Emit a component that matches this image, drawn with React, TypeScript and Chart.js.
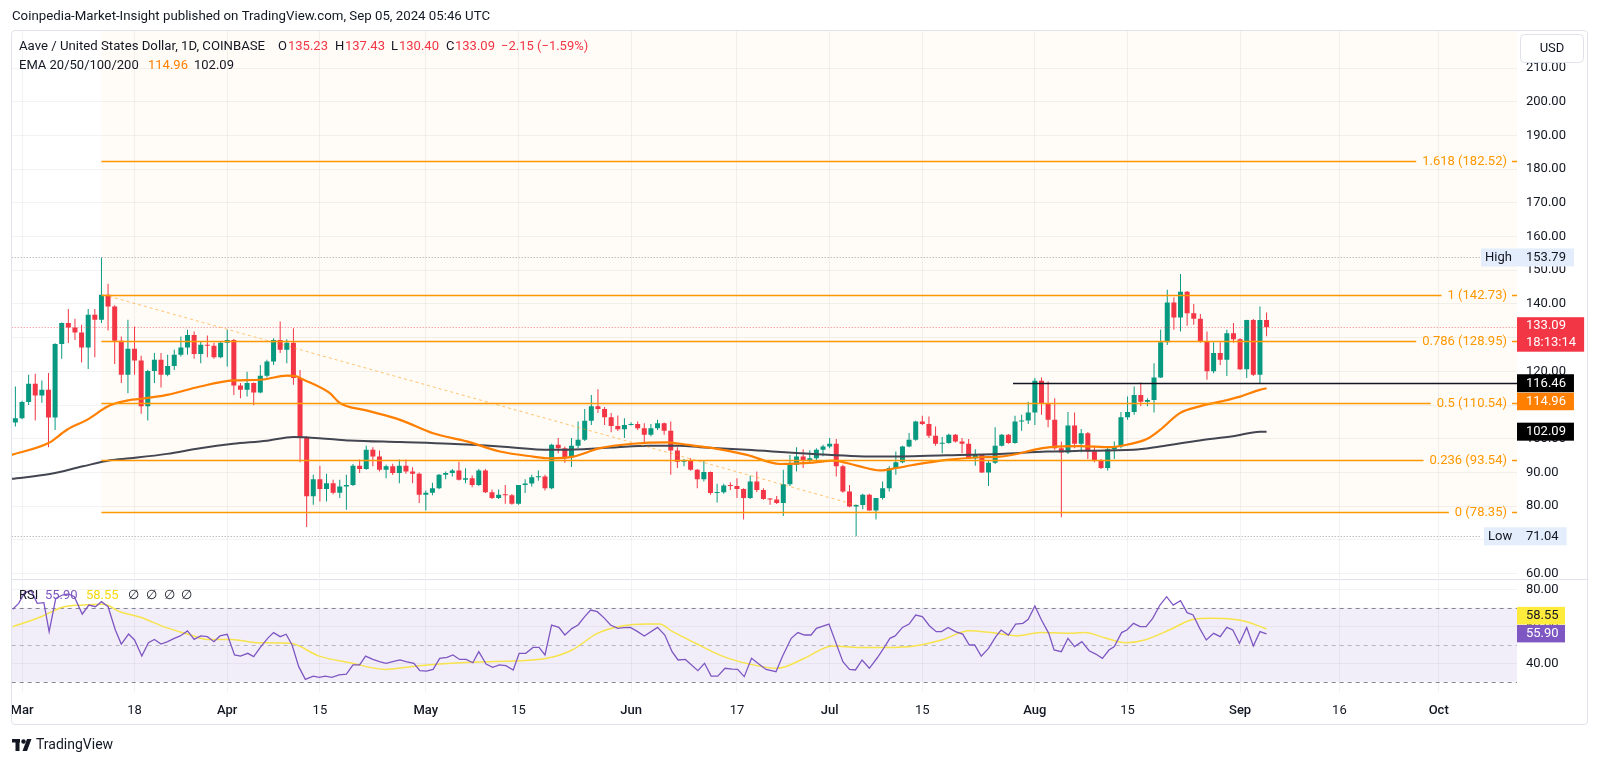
import React, { useEffect, useRef } from "react";
import { Chart, registerables } from "chart.js";

Chart.register(...registerables);

const FONT = "Roboto, 'Noto Sans', sans-serif";
const TEXT = "#131722";
const UP = "#089981";
const DOWN = "#f23645";
const GRID = "rgba(42,46,57,0.06)";
const FIB = "#ff9800";
const EMA50_COLOR = "#ff7f00";
const EMA200_COLOR = "#434651";

// day 0 = 2024-03-01 ; first candle = 2024-02-29
const FIRST_DAY = -1;
const X_MIN = -1.556;
const X_MAX = 225.83;

const opens = [
  104.8,106.1,110.9,116.3,112.8,114.5,106.3,128.1,134.3,133,
  131.5,127.1,136.8,135.3,142.7,139.2,129.1,119,126.7,123.2,
  109.6,120.1,123.4,119,121.6,124.9,127.1,130.8,125.1,127.9,
  127.6,124.2,128.5,129.3,115.8,114.5,116.5,113.7,118.7,122.9,
  129.3,126.4,128.5,118,100.5,82.9,88,85.1,86.8,84,
  85.8,86.3,92,91,96.7,94.7,90.8,91.8,89.8,92,
  90.3,89.6,83.4,84,85.3,89.3,89.8,90.6,87.8,88.3,
  86.3,90.6,84.1,82.4,83.4,83.2,80.7,86.3,86.7,88.6,
  88.8,85.3,98.2,97.2,94.5,97.9,99.7,105.3,109.6,108.8,
  106.4,103.8,102.8,104.1,104.4,103.1,101.2,103.1,104.6,102.4,
  96.5,93.2,93.6,90.8,88,90.1,83.9,84.1,86.1,86,
  85.1,82.4,87.3,84.8,82.1,82,80.9,86.5,92.3,94.7,
  93.5,94.2,96.7,97.7,98.5,91.8,84.3,79.9,80.3,83.4,
  78.7,82.4,85.3,91.3,93,97.7,99.7,105.1,104.4,100.9,
  98.5,98.7,101.2,99.2,98.5,94.2,95.2,90,92.9,97.9,
  101.2,98.7,105.1,105.4,107.8,117.2,110.5,105.6,97.2,95.9,
  103.9,98.5,101.6,96.2,93.5,91.3,96.9,97.7,106.4,107.9,
  113,111,111.5,118.2,128.6,140.4,136,143.6,137.2,135.6,
  128.8,120,125.4,123.4,131.3,129.5,120.6,135.2,119,135.23
];
const highs = [
  115.5,111.3,119,119.3,117.3,119.5,128.3,134.5,138.5,135.6,
  133.8,138.5,138.5,153.79,146,139.6,130.3,135.3,133.3,124.6,
  120.5,125.4,125.4,124.9,126.4,130.3,132.3,131.8,128.8,130.6,
  128.5,128.8,132.3,129.6,116.5,119.9,116.7,121.9,123.4,129.8,
  134.8,129.5,132.8,120.4,100.8,89.3,92,89.6,87.8,87.8,
  89.3,92.5,93.8,97.9,97.5,96.5,92.3,92.6,93.8,93.8,
  91.5,90,84.6,86.9,89.5,90.3,91,93.2,91.2,89.1,
  91,91,84.9,84.9,86.3,83.6,86.3,88,89.3,90.6,
  89.3,98.5,100.2,97.7,100.2,105.1,108.8,113,114.7,109.4,
  107.6,106.9,106.1,104.9,105.1,104.6,104.4,105.6,104.8,105.1,
  97.5,94,94.2,91,93.7,90.3,86.6,86.6,87.1,88.3,
  85.3,89,90.3,85.3,82.4,83,90.8,95.2,97.5,96.9,
  96.6,97.2,98.2,100.2,99.9,92.3,86.3,80.5,83.7,83.7,
  82.4,87.3,91.8,96.2,97.9,101.7,105.3,106.8,106.6,103.6,
  100.5,101.5,101.4,100.2,99.9,96.9,95.4,93.5,103.4,101.4,
  101.4,106.8,107.1,111,118,118.2,117,112,99.2,107.9,
  107.8,102.9,102,97.6,94,97.7,99.2,107.9,112.5,115.5,
  116.7,112,122.4,132.3,144.2,142,148.9,143.8,140,137,
  131.8,128.6,128.6,132.3,134.3,129.8,135.3,135.5,139.2,137.43
];
const lows = [
  103.6,105.8,110,105.4,110.7,97.5,102.6,123.7,128.4,129.3,
  122.6,120.7,124.2,134.3,132.1,122.2,116.5,113.5,119,107.4,
  105.4,116.5,115.2,118.5,120.4,124.4,124.9,123.7,122.4,124.2,
  123.7,123.9,121.4,113,112,112.5,109.9,113.5,118.2,121.9,
  125.4,122.4,116,93,73.8,80.4,81.4,81.4,83.5,82.4,
  78.9,86,89.8,90.8,91.8,90.3,88.3,89.2,86.8,89.6,
  86.8,80.9,78.7,83.2,85,88,88.8,87.6,86.8,85.6,
  86,83.9,82.1,82.1,80.7,80.4,80.4,83.9,85.8,87.5,
  84.6,85,95.7,92.9,91.6,97.2,99.3,104.1,107.6,104.1,
  101.9,102.3,100.2,103.9,102.6,98.5,100.7,102.6,101.2,89.3,
  91.3,91.8,90.5,85.3,87.3,83.4,81.1,83.7,84.8,82.4,
  76,82.1,84.1,81.9,80.4,80.6,77.1,86,90.3,91.3,
  93,93.5,94.8,97.2,88.8,84,79.7,71.04,79.1,78.7,
  76,82,84.3,89.3,92.7,97.5,99.4,104.1,100.2,97.9,
  95.7,98.5,98.9,95.7,94,92,89.8,86,92.5,97.7,
  98.5,98.5,102.4,104.4,104.1,107.1,103.4,96.7,76.7,95.5,
  97.2,96,94,93,91,90.6,94,97.2,105.6,107.1,
  109.6,109.6,107.8,118,127.8,132.3,131.8,133.5,133.8,128.5,
  117.5,119.4,121.9,118.6,128.5,120.4,118,118.6,116.5,130.4
];
const closes = [
  106.1,110.9,116.3,112.8,114.5,106.3,128.1,134.3,133,131.5,
  127.1,136.8,135.3,142.7,139.2,129.1,119,126.7,123.2,109.6,
  120.1,123.4,119,121.6,124.9,127.1,130.8,125.1,127.9,127.6,
  124.2,128.5,129.3,115.8,114.5,116.5,113.7,118.7,122.9,129.3,
  126.4,128.5,118,100.5,82.9,88,85.1,86.8,84,85.8,
  86.3,92,91,96.7,94.7,90.8,91.8,89.8,92,90.3,
  89.6,83.4,84,85.3,89.3,89.8,90.6,87.8,88.3,86.3,
  90.6,84.1,82.4,83.4,83.2,80.7,86.3,86.7,88.6,88.8,
  85.3,98.2,97.2,94.5,97.9,99.7,105.3,109.6,108.8,106.4,
  103.8,102.8,104.1,104.4,103.1,101.2,103.1,104.6,102.4,96.5,
  93.2,93.6,90.8,88,90.1,83.9,84.1,86.1,86,85.1,
  82.4,87.3,84.8,82.1,82,80.9,86.5,92.3,94.7,93.5,
  94.2,96.7,97.7,98.5,91.8,84.3,79.9,80.3,83.4,78.7,
  82.4,85.3,91.3,93,97.7,99.7,105.1,104.4,100.9,98.5,
  98.7,101.2,99.2,98.5,94.2,95.2,90,92.9,97.9,101.2,
  98.7,105.1,105.4,107.8,117.2,110.5,105.6,97.2,95.9,103.9,
  98.5,101.6,96.2,93.5,91.3,96.9,97.7,106.4,107.9,113,
  111,111.5,118.2,128.6,140.4,136,143.6,137.2,135.6,128.8,
  120,125.4,123.4,131.3,129.5,120.6,135.2,119,135.23,133.09
];

const ema50Days = [-1.6,4,6.75,9.8,13.3,16.3,17.8,21.9,26.9,31.9,36,40,41.5,42,46.5,48,52,57.1,62.1,67.2,72.2,77.2,79.8,83.3,87.3,92.3,97.4,99.4,102.4,104.4,109.5,114.5,119.5,122.6,126.1,129.6,132.1,134.6,139.7,144.7,147.7,150.8,152.8,155.4,159.8,164.4,166.9,169.9,171.9,174.9,177.9,181,184,187,188];
const ema50Values = [95.2,98.7,102.6,105.6,109.9,111.5,111.8,113,115.5,117.3,117.5,118.7,118.5,118,113.5,110.6,108.4,105.6,101.6,99.2,96.2,94.7,94.2,94.7,97.2,98.5,98.9,98.5,97.7,97.2,95.2,92.5,92.9,93.5,92,90.6,91.3,92.2,93.7,94.5,94.7,95.7,96.7,97.5,97.8,97.5,98.2,99.9,102.6,107.6,109.6,111,112.5,114.5,114.96];

const ema200Days = [-1.6,4.2,9.2,13.3,16.3,21.9,26.9,31.9,37,41,46.5,49.5,57.1,64.6,72.2,79.8,84.8,89.9,94.9,99.4,102.4,109.5,119.5,129.6,139.7,147.7,154.8,159.8,167.9,171.9,177.9,182.9,187,188];
const ema200Values = [88.1,89.5,91.8,93.6,94.2,95.5,97.2,98.5,99.4,100.5,99.9,99.5,99,98.5,97.7,96.7,96.9,97.5,97.9,97.9,97.5,96.7,95.5,94.7,95.1,95.5,96.2,96.4,96.7,97.7,99.5,100.7,102.1,102.09];

const rsiDays = [-1.4,-0.5,0.4,1.4,2.3,3.3,4.1,5.1,6.1,7,7.9,9.1,10.1,11.1,12,13,14.1,15,16.1,17,18.1,19.1,20,21,22,23,23.9,25,26,27,28,29,29.9,31,32.1,33,34.1,35,36,37.1,38,39,39.9,40.8,41.8,42.8,44,44.9,45.8,46.8,47.9,49,50,51,51.9,53,54,55,56,57.1,58,59.2,60.1,61.1,62.1,63.1,64.2,65.1,66.1,67.1,68.1,69,70.1,71.1,72.1,73.1,74.2,75.1,76.1,77.2,78.1,79,80,81.1,82,83.1,84,85,85.9,86.9,88,88.9,90,90.9,91.9,93,94,96,97.1,98.2,99.1,100.2,102.1,103.1,104.1,105.1,106.2,107.3,108.1,109.1,110.2,111.4,112.4,113.9,114.9,116.2,117.2,118.2,119.2,120,121.9,124,125,125.9,126.9,128,129.2,130,131.1,131.9,133,134,135,136,137.1,138.1,138.9,139.9,141,142.1,143.1,143.9,144.9,146,147.1,147.9,149,150.1,151.2,152,153,154,155.1,155.9,157,158,159,160.1,161.2,162.2,163.2,164.2,165,166.1,166.9,167.9,168.9,169.8,170.8,171.9,172.9,173.9,175,176,176.9,177.9,178.9,180,181,182,182.9,183.9,185,186,187,188];
const rsiValues = [69.2,72.4,78.2,79.3,72.4,72.8,57.1,75.1,76.9,77.5,76,66.6,71.5,70.6,73.3,70.6,58,50.4,55.8,52.6,43.9,51.1,52.9,50.4,51.7,53.5,54.8,57.5,52.9,54.8,54.4,51.7,54.8,55.7,44.5,43.9,45.4,43.6,48.6,53.5,56.6,54.4,55.7,49.9,38.2,31.3,33.1,32.4,33.1,32.4,33.7,34.1,39.1,39.1,43.9,42.1,40.9,40,40.9,41.8,40.9,40,36,35.8,36.7,42.7,43.2,44.5,42.1,42.1,40.3,46.3,39.6,37.8,39.1,38.7,36.4,45.4,45.4,48.6,48.6,44.5,60.7,59.4,55.3,58.9,60.7,65.2,68.8,67.9,64.3,60.7,58.9,59.3,59.4,57.1,54.8,59.4,55.3,46.3,41.8,42.1,36,40,33.1,33.1,37.3,36.9,36.7,32.8,42.7,39.4,36.7,35.5,43.9,53.5,56.6,55.3,55.3,58.9,61.2,40.9,36.7,36.4,41.8,37.3,43,47.2,53.5,54.8,59.4,61.2,66.1,65.2,60.2,57.1,57.1,59.4,57.1,55.8,49.9,49.9,43.9,48.1,54.4,58,55.3,61.2,61.6,63.8,71,63.4,56.2,47.2,46.3,53.5,49,51.7,46.8,45,42.7,47.2,49,56.6,58,61.6,59.8,59.8,64.3,71.5,76,71.5,73.9,67.4,66.1,58.9,52.6,56.2,54.4,59.4,58,50.8,59.4,49.4,57.1,55.9];

const rsiMaDays = [-1.4,2.9,6.1,9.2,12.3,14.8,18,21.7,25.5,28,31.7,35.5,40.5,44.9,49.9,54.9,58.7,63.1,68.7,74.9,79.3,83.1,86.9,90.6,94.4,96.3,98.3,101.6,105.8,109.9,114.1,118.2,122.4,126.5,130.6,134.8,138.9,143.1,146.4,150.5,153.8,158,160.5,163.8,166.7,169.6,173.3,177,179.5,182.9,185,188];
const rsiMaValues = [59.8,65.2,70.3,71.5,71.9,67.9,64.8,59.4,55.3,52.9,52.9,51.1,50.8,43.9,40,36.7,38.2,39.6,40.7,41.4,42.7,47.2,56.2,60.2,61.3,61.2,57.1,51.1,43.9,39.6,37.3,42.7,49.4,48.6,48.6,49.4,52.6,57.6,56.6,54.9,56.7,56.2,56.6,53.5,51.1,52.6,58,63.8,64.3,63.8,62.5,58.55];

const xTickDays = [0, 17, 31, 45, 61, 75, 92, 108, 122, 136, 153, 167, 184, 199, 214];
const xTickLabels = ["Mar", "18", "Apr", "15", "May", "15", "Jun", "17", "Jul", "15", "Aug", "15", "Sep", "16", "Oct"];
const priceTicks = [60, 70, 80, 90, 100, 110, 120, 130, 140, 150, 160, 170, 180, 190, 200, 210];
const rsiTicks = [40, 60, 80];

const fibRatios = ["0", "0.236", "0.5", "0.786", "1", "1.618"];
const fibPrices = [78.35, 93.54, 110.54, 128.95, 142.73, 182.52];
const fibStartDay = 12;
const trendDays = [12.3, 126];
const trendPrices = [142.73, 80.3];
const supportPrice = 116.46;
const supportStartDay = 149.7;
const highPrice = 153.79;
const lowPrice = 71.04;
const lastClose = 133.09;
const ema50Last = 114.96;
const ema200Last = 102.09;
const rsiLast = 55.9;
const rsiMaLast = 58.55;

function font(size: number, weight = "normal") {
  return `${weight} ${size}px ${FONT}`;
}

function badge(ctx: CanvasRenderingContext2D, x: number, top: number, w: number, h: number, bg: string, fg: string, text: string, tx: number) {
  ctx.fillStyle = bg;
  ctx.fillRect(x, top, w, h);
  ctx.fillStyle = fg;
  ctx.textAlign = "left";
  ctx.textBaseline = "middle";
  ctx.fillText(text, tx, top + h / 2 + 0.5);
}

const pricePlugin = {
  id: "priceOverlay",
  beforeDraw(chart: any) {
    const { ctx, chartArea: a, scales } = chart;
    const x = scales.x, y = scales.y;
    ctx.save();
    const x0 = x.getPixelForValue(fibStartDay);
    const yb = y.getPixelForValue(fibPrices[0]);
    ctx.fillStyle = "rgba(255,152,0,0.035)";
    ctx.fillRect(x0, a.top, a.right - x0, yb - a.top);
    ctx.restore();
  },
  afterDatasetsDraw(chart: any) {
    const { ctx, chartArea: a, scales } = chart;
    const x = scales.x, y = scales.y;
    ctx.save();
    ctx.beginPath();
    ctx.rect(a.left, a.top, a.right - a.left, a.bottom - a.top);
    ctx.clip();

    ctx.setLineDash([1, 2]);
    ctx.lineWidth = 1;
    ctx.strokeStyle = "rgba(120,123,134,0.7)";
    for (const p of [highPrice, lowPrice]) {
      const yy = Math.round(y.getPixelForValue(p)) + 0.5;
      ctx.beginPath();
      ctx.moveTo(a.left, yy);
      ctx.lineTo(a.right - 36, yy);
      ctx.stroke();
    }
    ctx.strokeStyle = "rgba(242,54,69,0.6)";
    const yl = Math.round(y.getPixelForValue(lastClose)) + 0.5;
    ctx.beginPath();
    ctx.moveTo(a.left, yl);
    ctx.lineTo(a.right, yl);
    ctx.stroke();

    ctx.setLineDash([3, 3]);
    ctx.strokeStyle = "rgba(255,152,0,0.55)";
    ctx.beginPath();
    ctx.moveTo(x.getPixelForValue(trendDays[0]), y.getPixelForValue(trendPrices[0]));
    ctx.lineTo(x.getPixelForValue(trendDays[1]), y.getPixelForValue(trendPrices[1]));
    ctx.stroke();
    ctx.setLineDash([]);

    ctx.font = font(13);
    ctx.textBaseline = "middle";
    ctx.textAlign = "right";
    const xs = x.getPixelForValue(fibStartDay);
    for (let i = 0; i < fibPrices.length; i++) {
      const yy = Math.round(y.getPixelForValue(fibPrices[i])) + 0.5;
      const label = `${fibRatios[i]} (${fibPrices[i].toFixed(2)})`;
      const tr = a.right - 10;
      const w = ctx.measureText(label).width;
      ctx.strokeStyle = FIB;
      ctx.lineWidth = 1.5;
      ctx.beginPath();
      ctx.moveTo(xs, yy);
      ctx.lineTo(tr - w - 6, yy);
      ctx.moveTo(a.right - 5, yy);
      ctx.lineTo(a.right, yy);
      ctx.stroke();
      ctx.fillStyle = FIB;
      ctx.fillText(label, tr, yy + 0.5);
    }

    const ys = Math.round(y.getPixelForValue(supportPrice)) + 0.5;
    ctx.strokeStyle = "#131722";
    ctx.lineWidth = 1.5;
    ctx.beginPath();
    ctx.moveTo(x.getPixelForValue(supportStartDay), ys);
    ctx.lineTo(a.right, ys);
    ctx.stroke();
    ctx.restore();
  },
  afterDraw(chart: any) {
    const { ctx, chartArea: a, scales } = chart;
    const y = scales.y;
    ctx.save();
    ctx.font = font(13);
    const R = a.right;
    const tx = R + 9;
    const bw = (t: string) => ctx.measureText(t).width + 17;

    let yy = y.getPixelForValue(highPrice);
    badge(ctx, R - 36, yy - 9, 36, 18, "#e3edfb", TEXT, "High", R - 32);
    badge(ctx, R, yy - 9, bw("153.79"), 18, "#e3edfb", TEXT, highPrice.toFixed(2), tx);
    yy = y.getPixelForValue(lowPrice);
    badge(ctx, R - 33, yy - 9, 33, 18, "#e3edfb", TEXT, "Low", R - 29);
    badge(ctx, R, yy - 9, bw("71.04"), 18, "#e3edfb", TEXT, lowPrice.toFixed(2), tx);
    yy = y.getPixelForValue(lastClose);
    ctx.fillStyle = DOWN;
    ctx.fillRect(R, yy - 10, bw("18:13:14"), 34.5);
    ctx.fillStyle = "#ffffff";
    ctx.textBaseline = "middle";
    ctx.textAlign = "left";
    ctx.fillText(lastClose.toFixed(2), tx, yy - 1);
    ctx.fillText("18:13:14", tx, yy + 15.5);
    yy = y.getPixelForValue(supportPrice);
    badge(ctx, R, yy - 9, bw("116.46"), 18, "#000000", "#ffffff", supportPrice.toFixed(2), tx);
    badge(ctx, R, yy + 9.5, bw("114.96"), 17.5, EMA50_COLOR, "#ffffff", ema50Last.toFixed(2), tx);
    yy = y.getPixelForValue(ema200Last);
    badge(ctx, R, yy - 9, bw("102.09"), 18, "#000000", "#ffffff", ema200Last.toFixed(2), tx);

    ctx.fillStyle = "#ffffff";
    ctx.strokeStyle = "#e0e3eb";
    ctx.lineWidth = 1;
    ctx.beginPath();
    (ctx as any).roundRect(1520.5, 34.5, 63, 28, 4);
    ctx.fill();
    ctx.stroke();
    ctx.fillStyle = TEXT;
    ctx.textAlign = "center";
    ctx.fillText("USD", 1552, 49);

    ctx.textAlign = "left";
    ctx.textBaseline = "middle";
    ctx.fillStyle = TEXT;
    ctx.font = font(13.25);
    ctx.fillText("Coinpedia-Market-Insight published on TradingView.com, Sep 05, 2024 05:46 UTC", 12, 17);

    ctx.font = font(13.2);
    ctx.fillText("Aave / United States Dollar, 1D, COINBASE", 19, 47);
    ctx.font = font(13);
    const segs: [string, number, string][] = [
      ["O", 278, TEXT], ["135.23", 288, DOWN],
      ["H", 335, TEXT], ["137.43", 345, DOWN],
      ["L", 391, TEXT], ["130.40", 399, DOWN],
      ["C", 446, TEXT], ["133.09", 455, DOWN],
      ["\u22122.15 (\u22121.59%)", 501, DOWN],
    ];
    for (const [t, px, c] of segs) {
      ctx.fillStyle = c;
      ctx.fillText(t, px, 47);
    }
    ctx.fillStyle = TEXT;
    ctx.fillText("EMA 20/50/100/200", 19, 66);
    ctx.fillStyle = EMA50_COLOR;
    ctx.fillText(ema50Last.toFixed(2), 148, 66);
    ctx.fillStyle = TEXT;
    ctx.fillText(ema200Last.toFixed(2), 194, 66);

    ctx.strokeStyle = "#e0e3eb";
    ctx.beginPath();
    ctx.moveTo(11, 579.5);
    ctx.lineTo(1588, 579.5);
    ctx.stroke();
    ctx.restore();
  },
};

const rsiPlugin = {
  id: "rsiOverlay",
  beforeDatasetsDraw(chart: any) {
    const { ctx, chartArea: a, scales } = chart;
    const y = scales.y;
    ctx.save();
    const y70 = y.getPixelForValue(70), y30 = y.getPixelForValue(30), y50 = y.getPixelForValue(50);
    ctx.fillStyle = "rgba(126,87,194,0.1)";
    ctx.fillRect(a.left, y70, a.right - a.left, y30 - y70);
    ctx.lineWidth = 1;
    ctx.setLineDash([4, 4]);
    ctx.strokeStyle = "rgba(120,123,134,0.9)";
    for (const v of [y70, y30]) {
      ctx.beginPath();
      ctx.moveTo(a.left, Math.round(v) + 0.5);
      ctx.lineTo(a.right, Math.round(v) + 0.5);
      ctx.stroke();
    }
    ctx.strokeStyle = "rgba(120,123,134,0.5)";
    ctx.beginPath();
    ctx.moveTo(a.left, Math.round(y50) + 0.5);
    ctx.lineTo(a.right, Math.round(y50) + 0.5);
    ctx.stroke();
    ctx.restore();
  },
  afterDraw(chart: any) {
    const { ctx, chartArea: a, scales } = chart;
    const y = scales.y;
    ctx.save();
    ctx.font = font(13);
    const R = a.right;
    const tx = R + 9;
    const yp = y.getPixelForValue(rsiLast);
    badge(ctx, R, yp - 9, 48, 17.5, "#7e57c2", "#ffffff", rsiLast.toFixed(2), tx);
    badge(ctx, R, yp - 27, 48, 17.6, "#ffeb3b", TEXT, rsiMaLast.toFixed(2), tx);

    ctx.textAlign = "left";
    ctx.textBaseline = "middle";
    const ly = 16;
    ctx.fillStyle = TEXT;
    ctx.fillText("RSI", 19, ly);
    ctx.fillStyle = "#7e57c2";
    ctx.fillText(rsiLast.toFixed(2), 45, ly);
    ctx.fillStyle = "#f5d90a";
    ctx.fillText(rsiMaLast.toFixed(2), 86, ly);
    ctx.fillStyle = TEXT;
    for (const px of [128, 146, 164, 181]) ctx.fillText("\u2205", px, ly);

    const by = 165;
    ctx.fillStyle = TEXT;
    ctx.fillRect(12, by - 6, 8, 3.5);
    ctx.fillRect(15.5, by - 6, 4, 12);
    ctx.beginPath();
    ctx.arc(23.5, by - 3.5, 2.2, 0, Math.PI * 2);
    ctx.fill();
    ctx.beginPath();
    ctx.moveTo(27, by - 6);
    ctx.lineTo(31.5, by - 6);
    ctx.lineTo(27, by + 6);
    ctx.lineTo(22.5, by + 6);
    ctx.closePath();
    ctx.fill();
    ctx.font = font(14);
    ctx.fillText("TradingView", 36, by);
    ctx.restore();
  },
};

function priceConfig(): any {
  const n = opens.length;
  const bodies = [], wicks = [], colors = [];
  for (let i = 0; i < n; i++) {
    const d = FIRST_DAY + i;
    bodies.push({ x: d, y: [opens[i], closes[i]] });
    wicks.push({ x: d, y: [lows[i], highs[i]] });
    colors.push(closes[i] >= opens[i] ? UP : DOWN);
  }
  return {
    type: "bar",
    data: {
      datasets: [
        {
          type: "line", label: "EMA 50",
          data: ema50Days.map((d, i) => ({ x: d, y: ema50Values[i] })),
          borderColor: EMA50_COLOR, borderWidth: 2.2, pointRadius: 0, cubicInterpolationMode: "monotone", order: 1,
        },
        {
          type: "line", label: "EMA 200",
          data: ema200Days.map((d, i) => ({ x: d, y: ema200Values[i] })),
          borderColor: EMA200_COLOR, borderWidth: 2, pointRadius: 0, cubicInterpolationMode: "monotone", order: 2,
        },
        {
          type: "bar", label: "Body", data: bodies, backgroundColor: colors, barThickness: 5,
          grouped: false, minBarLength: 1, inflateAmount: 0, borderWidth: 0, order: 3,
        },
        {
          type: "bar", label: "Wick", data: wicks, backgroundColor: colors, barThickness: 1,
          grouped: false, inflateAmount: 0, borderWidth: 0, order: 4,
        },
      ],
    },
    options: {
      responsive: false,
      animation: false,
      layout: { padding: { left: 11.7, right: 0, top: 31, bottom: 2 } },
      plugins: { legend: { display: false }, tooltip: { enabled: false } },
      scales: {
        x: {
          type: "linear", min: X_MIN, max: X_MAX, offset: false,
          ticks: { display: false },
          grid: { color: GRID, drawTicks: false, offset: false },
          border: { display: false },
          afterBuildTicks: (s: any) => { s.ticks = xTickDays.map((v) => ({ value: v })); },
          afterFit: (s: any) => { s.height = 0; s.paddingLeft = 0; s.paddingRight = 0; },
        },
        y: {
          type: "linear", position: "right", min: 58.67, max: 220.98,
          ticks: { padding: 9, color: TEXT, font: { family: FONT, size: 13 }, callback: (v: any) => Number(v).toFixed(2) },
          grid: { color: GRID, drawTicks: false },
          border: { display: false },
          afterBuildTicks: (s: any) => { s.ticks = priceTicks.map((v) => ({ value: v })); },
          afterFit: (s: any) => { s.width = 83; s.paddingTop = 0; s.paddingBottom = 0; },
        },
      },
    },
    plugins: [pricePlugin],
  };
}

function rsiConfig(): any {
  return {
    type: "line",
    data: {
      datasets: [
        {
          label: "RSI", data: rsiDays.map((d, i) => ({ x: d, y: rsiValues[i] })),
          borderColor: "#7e57c2", borderWidth: 1.3, pointRadius: 0, tension: 0, order: 1,
        },
        {
          label: "RSI MA", data: rsiMaDays.map((d, i) => ({ x: d, y: rsiMaValues[i] })),
          borderColor: "#f7e34b", borderWidth: 1.5, pointRadius: 0, cubicInterpolationMode: "monotone", order: 2,
        },
      ],
    },
    options: {
      responsive: false,
      animation: false,
      layout: { padding: { left: 11.7, right: 0, top: 0, bottom: 39 } },
      plugins: { legend: { display: false }, tooltip: { enabled: false } },
      scales: {
        x: {
          type: "linear", min: X_MIN, max: X_MAX, offset: false,
          ticks: {
            color: TEXT, padding: 11, autoSkip: false, maxRotation: 0,
            font: (c: any) => {
              const lbl = c.tick ? xTickLabels[xTickDays.indexOf(Number(c.tick.value))] : "";
              return { family: FONT, size: 13, weight: lbl && isNaN(Number(lbl)) ? "500" : "normal" };
            },
            callback: (v: any) => { const i = xTickDays.indexOf(Number(v)); return i >= 0 ? xTickLabels[i] : ""; },
          },
          grid: { color: GRID, drawTicks: false },
          border: { display: false },
          afterBuildTicks: (s: any) => { s.ticks = xTickDays.map((v) => ({ value: v })); },
          afterFit: (s: any) => { s.height = 33; s.paddingLeft = 0; s.paddingRight = 0; },
        },
        y: {
          type: "linear", position: "right", min: 24.49, max: 85.03,
          ticks: { padding: 9, color: TEXT, font: { family: FONT, size: 13 }, callback: (v: any) => Number(v).toFixed(2) },
          grid: { color: GRID, drawTicks: false },
          border: { display: false },
          afterBuildTicks: (s: any) => { s.ticks = rsiTicks.map((v) => ({ value: v })); },
          afterFit: (s: any) => { s.width = 83; s.paddingTop = 0; s.paddingBottom = 0; },
        },
      },
    },
    plugins: [rsiPlugin],
  };
}

export default function App() {
  const priceRef = useRef<HTMLCanvasElement>(null);
  const rsiRef = useRef<HTMLCanvasElement>(null);
  useEffect(() => {
    const c1 = new Chart(priceRef.current as HTMLCanvasElement, priceConfig());
    const c2 = new Chart(rsiRef.current as HTMLCanvasElement, rsiConfig());
    return () => {
      c1.destroy();
      c2.destroy();
    };
  }, []);
  return (
    <div style={{ position: "absolute", left: 0, top: 0, width: 1600, height: 764, background: "#ffffff", overflow: "hidden" }}>
      <canvas ref={priceRef} width={1600} height={580} style={{ position: "absolute", left: 0, top: 0, width: 1600, height: 580 }} />
      <canvas ref={rsiRef} width={1600} height={184} style={{ position: "absolute", left: 0, top: 580, width: 1600, height: 184 }} />
      <div style={{ position: "absolute", left: 11, top: 30, width: 1577, height: 695, border: "1px solid #e0e3eb", boxSizing: "border-box", borderRadius: 4, pointerEvents: "none" }} />
    </div>
  );
}
